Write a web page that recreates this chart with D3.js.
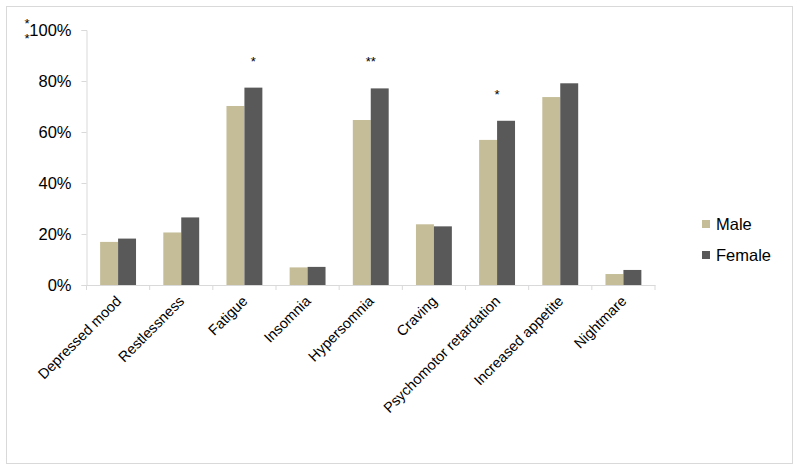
<!DOCTYPE html>
<html>
<head>
<meta charset="utf-8">
<script src="https://cdn.jsdelivr.net/npm/d3@7"></script>
<style>
body { margin: 0; background: #fff; }
svg text { font-family: Arial, "Liberation Sans", sans-serif; fill: #000; }
</style>
</head>
<body>
<svg id="chart"></svg>
<script>
var categories = ["Depressed mood", "Restlessness", "Fatigue", "Insomnia", "Hypersomnia",
                  "Craving", "Psychomotor retardation", "Increased appetite", "Nightmare"];
var maleValues = [16.9, 20.6, 70.2, 6.9, 64.7, 23.8, 56.9, 73.7, 4.3];
var femaleValues = [18.2, 26.5, 77.4, 7.1, 77.1, 23.0, 64.4, 79.1, 5.9];
var sigMarks = ["", "", "*", "", "**", "", "*", "", ""];
var yTicks = [0, 20, 40, 60, 80, 100];
var seriesNames = ["Male", "Female"];
var seriesColors = ["#c4bd97", "#595959"];

var screen = {width: 800, height: 472};
var plot = {left: 86.5, right: 655, top: 30, bottom: 285};

var svg = d3.select("#chart")
    .attr("width", screen.width)
    .attr("height", screen.height);

// outer frame
svg.append("rect")
    .attr("x", 6.5).attr("y", 6.5)
    .attr("width", 786).attr("height", 457)
    .attr("fill", "none")
    .attr("stroke", "#d9d9d9");

var xScale = d3.scaleBand()
    .domain(categories)
    .range([plot.left, plot.right]);

var xInner = d3.scaleBand()
    .domain(seriesNames)
    .range([0, xScale.bandwidth()])
    .paddingInner(0)
    .paddingOuter(0.76);

var yScale = d3.scaleLinear()
    .domain([0, 100])
    .range([plot.bottom, plot.top]);

// y axis
var yAxis = d3.axisLeft(yScale)
    .tickValues(yTicks)
    .tickSize(5)
    .tickPadding(10)
    .tickFormat(function(d) { return d + "%"; });

var yg = svg.append("g")
    .attr("transform", "translate(" + plot.left + ",0)")
    .call(yAxis);
yg.select(".domain").attr("stroke", "#d9d9d9");
yg.selectAll(".tick line").attr("stroke", "#d9d9d9");
yg.selectAll(".tick text")
    .style("font-size", "16.5px")
    .attr("dy", "0.36em");

// bars
var entries = categories.map(function(c, i) {
    return {cat: c, values: [maleValues[i], femaleValues[i]], sig: sigMarks[i]};
});

var groups = svg.append("g")
    .selectAll("g")
    .data(entries)
    .enter()
    .append("g")
    .attr("transform", function(d) { return "translate(" + xScale(d.cat) + ",0)"; });

groups.selectAll("rect")
    .data(function(d) { return d.values.map(function(v, j) { return {name: seriesNames[j], v: v, j: j}; }); })
    .enter()
    .append("rect")
    .attr("x", function(d) { return xInner(d.name); })
    .attr("width", xInner.bandwidth())
    .attr("y", function(d) { return yScale(d.v); })
    .attr("height", function(d) { return plot.bottom - yScale(d.v); })
    .attr("fill", function(d) { return seriesColors[d.j]; });

// significance marks
groups.filter(function(d) { return d.sig !== ""; })
    .append("text")
    .attr("x", function(d) {
        return d.sig === "*" && d.cat === "Fatigue"
            ? xInner("Female") + xInner.bandwidth() / 2
            : xScale.bandwidth() / 2;
    })
    .attr("y", function(d) { return yScale(d.values[1]) - 22; })
    .attr("text-anchor", "middle")
    .style("font-size", "13px")
    .text(function(d) { return d.sig; });

// x axis
var xAxis = d3.axisBottom(xScale).tickSize(0).tickFormat("");
var xg = svg.append("g")
    .attr("transform", "translate(0," + plot.bottom + ")")
    .call(xAxis);
xg.select(".domain").attr("stroke", "#d9d9d9");

// category separators
svg.append("g")
    .selectAll("line")
    .data(categories.concat(["end"]))
    .enter()
    .append("line")
    .attr("x1", function(d, i) { return plot.left + i * xScale.step(); })
    .attr("x2", function(d, i) { return plot.left + i * xScale.step(); })
    .attr("y1", plot.bottom)
    .attr("y2", plot.bottom + 5)
    .attr("stroke", "#d9d9d9");

// rotated category labels
svg.append("g")
    .selectAll("text")
    .data(categories)
    .enter()
    .append("text")
    .attr("transform", function(d) {
        var cx = xScale(d) + xScale.bandwidth() / 2;
        return "translate(" + (cx + 4) + "," + (plot.bottom + 17) + ") rotate(-45)";
    })
    .attr("text-anchor", "end")
    .style("font-size", "14.5px")
    .text(function(d) { return d; });

// stray asterisks at top left
svg.append("text").attr("x", 27).attr("y", 28).attr("text-anchor", "middle")
    .style("font-size", "13px").text("*");
svg.append("text").attr("x", 27).attr("y", 43).attr("text-anchor", "middle")
    .style("font-size", "13px").text("*");

// legend
var legend = svg.append("g")
    .selectAll("g")
    .data(seriesNames)
    .enter()
    .append("g")
    .attr("transform", function(d, i) { return "translate(702," + (220 + i * 31) + ")"; });
legend.append("rect")
    .attr("width", 8).attr("height", 8)
    .attr("fill", function(d, i) { return seriesColors[i]; });
legend.append("text")
    .attr("x", 14).attr("y", 9.5)
    .style("font-size", "16.5px")
    .text(function(d) { return d; });
</script>
</body>
</html>
